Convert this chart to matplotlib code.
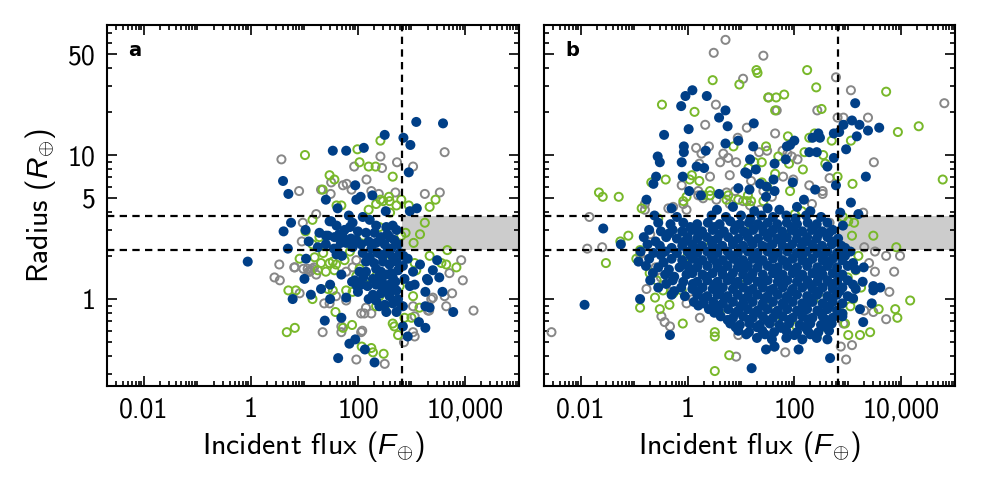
import numpy as np
import matplotlib
matplotlib.use("Agg")
import matplotlib.pyplot as plt
from matplotlib.ticker import FixedLocator, FixedFormatter, NullFormatter

plt.rcParams['font.family'] = ['cmss10', 'DejaVu Sans']
plt.rcParams['mathtext.fontset'] = 'custom'
plt.rcParams['mathtext.rm'] = 'cmss10'
plt.rcParams['mathtext.it'] = 'Liberation Sans:italic'
plt.rcParams['axes.unicode_minus'] = False

# ---------------- data (log10 of incident flux, log10 of radius) ----------------
# Panel a
a_gray = [(0.57,0.97),(0.90,0.75),(2.42,0.99),(2.73,0.95),(3.03,0.92),(1.93,0.92),(2.45,0.91),(2.16,0.83),
          (3.62,1.02),(1.50,0.81),(1.72,0.79),(1.79,0.80),(1.88,0.76),(1.49,0.73),(1.31,0.76),(2.25,0.75),
          (2.70,0.74),(3.25,0.73),(3.53,0.74),(2.39,0.73),(1.22,0.59),(0.97,0.53),(0.95,0.40),(0.82,0.22),
          (0.98,0.21),(1.06,0.21),(1.12,0.20),(1.15,0.21),(1.08,0.19),(1.22,0.17),(0.53,0.24),(0.44,0.15),
          (0.54,0.13),(0.91,0.04),(1.59,0.02),(1.78,-0.01),(1.47,-0.03),(1.37,-0.03),(1.97,0.27),(1.90,0.22),
          (1.78,0.19),(2.12,-0.10),(2.06,-0.10),(2.25,-0.10),(2.15,-0.06),(3.93,0.27),(3.71,0.18),(3.96,0.13),
          (3.76,0.04),(3.65,-0.05),(4.16,-0.08),(3.37,0.00),(3.40,0.01),(3.03,-0.05),(3.06,-0.12),(1.34,-0.23),
          (1.69,-0.23),(1.69,-0.19),(2.06,-0.23),(1.97,-0.42),(2.50,-0.45),(2.86,-0.30),(3.06,-0.26),(3.03,-0.23),
          (3.62,0.02),(3.31,-0.08),(3.33,-0.08),(2.08,-0.22),(0.81,0.22),(1.18,0.22),(1.10,0.19)]
a_green = [(1.01,1.00),(1.99,1.04),(2.42,1.10),(2.03,0.95),(2.20,0.92),(2.33,0.92),(2.65,0.85),(1.47,0.86),
           (1.56,0.83),(1.34,0.76),(2.42,0.69),(2.58,0.71),(2.81,0.69),(3.45,0.69),(1.60,0.65),(1.69,0.65),
           (2.34,0.66),(2.47,0.68),(2.59,0.68),(2.72,0.65),(2.95,0.65),(3.34,0.64),(3.25,0.53),(3.16,0.45),
           (3.04,0.39),(2.89,0.46),(2.81,0.44),(3.67,0.34),(1.15,0.55),(1.02,0.47),(1.28,0.43),(1.35,0.32),
           (1.15,0.38),(0.91,0.28),(1.19,0.29),(1.31,0.25),(1.47,0.25),(1.53,0.26),(1.75,0.27),(1.25,0.20),
           (1.40,0.19),(1.56,0.20),(1.59,0.24),(1.97,0.16),(2.15,0.15),(2.34,0.16),(2.03,0.21),(0.70,0.06),
           (0.84,0.06),(1.53,0.06),(1.78,0.06),(1.90,0.05),(1.15,0.00),(1.44,0.07),(2.40,0.02),(2.34,-0.05),
           (2.50,-0.05),(2.87,-0.13),(3.00,-0.13),(2.65,-0.17),(2.68,-0.19),(2.75,-0.25),(1.58,-0.09),(1.72,-0.20),
           (1.89,-0.18),(0.67,-0.23),(0.82,-0.20),(2.07,-0.33),(2.25,-0.34),(2.28,-0.37),(2.48,-0.38),(3.03,0.02),
           (3.15,-0.06),(3.65,0.24),(3.84,0.22),(3.34,0.30),(3.06,0.25),(3.09,0.20),(2.78,0.09),(3.56,0.25),
           (2.40,0.50),(2.10,0.44),(1.85,0.33),(2.55,0.26),(2.60,0.60),(2.20,0.62)]
a_blue = [(2.50,1.14),(2.85,1.12),(3.09,1.23),(3.59,1.22),(2.98,1.07),(1.53,1.03),(1.78,1.03),(2.11,1.05),
          (2.95,0.88),(0.60,0.82),(0.70,0.73),(1.95,0.79),(2.05,0.71),(2.27,0.72),(1.40,0.69),(1.97,0.69),
          (1.62,0.63),(1.83,0.58),(2.52,0.61),(2.97,0.61),(3.10,0.63),(0.75,0.53),(0.61,0.47),(1.02,0.48),
          (1.08,0.40),(0.69,0.35),(-0.06,0.26),(1.03,0.28),(1.00,0.14),(0.78,0.00),(1.12,0.03),(1.31,0.07),
          (1.48,0.10),(1.48,0.00),(1.69,0.17),(1.78,0.01),(1.38,-0.15),(1.69,-0.13),(1.84,-0.31),(1.95,-0.28),
          (2.13,-0.35),(1.63,-0.41),(2.31,-0.44),(2.84,-0.19),(2.93,-0.26),(3.14,-0.16),(3.26,-0.20),(3.78,-0.09),
          (3.58,0.05),(3.52,0.15),(3.48,0.27),(3.40,0.20),(3.31,0.13),(3.16,0.24),(3.26,-0.05),(3.34,-0.06),
          (2.93,0.28),(3.03,0.19),(3.06,0.10),(2.97,0.09),(2.87,0.14),(2.84,-0.05),(3.26,0.05),(3.29,0.14),
          (1.50,0.54),(1.60,0.51),(1.75,0.48),(1.90,0.53),(2.09,0.57),(2.22,0.55),(2.34,0.51),(2.53,0.50),
          (2.65,0.51),(2.72,0.48),(1.28,0.46),(1.44,0.44),(1.56,0.43),(1.72,0.43),(1.87,0.42),(1.97,0.41),
          (2.15,0.46),(2.31,0.46),(2.43,0.43),(2.59,0.43),(2.68,0.41),(1.25,0.36),(1.40,0.38),(1.60,0.35),
          (1.78,0.39),(1.90,0.36),(2.06,0.38),(2.20,0.40),(2.34,0.39),(2.50,0.38),(2.62,0.35),(2.75,0.38),
          (1.60,0.31),(2.09,0.32),(2.22,0.29),(2.37,0.32),(2.53,0.32),(2.65,0.29),(2.15,0.26),(2.47,0.26),
          (2.59,0.24),(2.72,0.26),(2.75,0.20),(2.34,0.21),(2.43,0.19),(2.53,0.17),(2.28,0.14),(2.40,0.16),
          (2.62,0.18),(2.03,0.19),(2.15,0.19),(1.94,0.13),(2.06,0.10),(2.18,0.09),(2.34,0.10),(2.47,0.07),
          (2.59,0.10),(2.65,0.15),(2.72,0.06),(2.28,0.03),(2.43,0.04),(2.59,0.02),(2.34,-0.01),(2.50,-0.04),
          (2.65,-0.03),(2.53,-0.09),(2.72,-0.09),(2.81,-0.05),(1.98,0.09),(1.89,0.12),(1.47,0.54),(1.40,0.44),
          (2.00,0.47),(1.68,0.39),(2.78,0.32),(2.84,0.23),(2.70,0.12),(2.45,0.12),
          (1.65,0.45),(1.85,0.50),(2.25,0.35),(2.45,0.30),(2.55,0.45),(1.70,0.30),(2.10,0.15),(2.30,0.25),
          (2.60,0.05),(2.40,-0.05),(2.00,0.05),(1.55,0.35),(2.75,0.00),(2.85,0.30),(2.20,0.00)]

# Panel b
b_gray = [(0.71,1.80),(0.49,1.71),(1.42,1.69),(1.04,1.53),(2.78,1.54),(3.06,1.45),(0.53,1.35),(1.52,1.40),
          (1.67,1.31),(2.43,1.31),(4.81,1.36),(0.33,1.21),(1.11,1.19),(2.81,1.26),(2.92,1.26),(3.38,1.26),
          (1.64,1.15),(0.94,1.12),(0.16,1.05),(0.26,1.01),(0.40,1.06),(0.67,1.01),(0.61,0.95),(0.76,0.98),
          (0.91,0.95),(0.42,0.85),(0.79,0.86),(-0.11,0.79),(1.34,1.02),(1.49,1.03),(1.78,1.03),(1.87,1.01),
          (1.95,0.99),(2.06,0.97),(1.79,0.85),(1.98,0.83),(2.28,0.79),(2.53,0.75),(3.49,0.95),(2.66,0.84),
          (0.22,0.94),(0.20,0.75),(1.19,0.82),(1.42,0.75),(0.73,0.74),(0.89,0.75),(-1.84,0.57),(-1.88,0.35),
          (-1.60,0.36),(-2.55,-0.23),(-0.77,0.07),(-0.49,-0.12),(-0.43,-0.16),(-0.33,-0.19),(0.23,-0.13),
          (-0.02,-0.03),(0.42,-0.07),(3.29,0.60),(3.72,0.30),(3.98,0.30),(3.51,0.19),(3.87,0.19),(3.78,0.05),
          (3.72,-0.14),(3.48,-0.09),(3.31,-0.08),(2.92,-0.17),(3.08,-0.32),(2.97,-0.42),(2.87,-0.33),
          (1.83,-0.37),(1.62,-0.33),(0.91,-0.40),(0.95,-0.25),(-0.89,0.31),(-0.83,0.27),(-0.80,0.62),
          (-0.80,0.66),(-0.36,0.63),(-0.27,0.64),(-0.08,0.66),(-0.02,0.62),(0.20,0.72),(0.29,0.70),(0.54,0.69),
          (0.79,0.66),(1.04,0.68),(1.17,0.65),(1.36,0.62),(1.58,0.71),(2.33,0.66),(2.53,0.73),(2.66,0.53),
          (3.31,0.36),(3.51,0.33),(-0.50,0.15),(-0.30,0.05),(0.10,0.00),(-0.60,0.22),(-0.70,0.45),(3.40,0.25)]
b_green = [(1.29,1.59),(1.31,1.57),(0.47,1.52),(0.97,1.49),(2.24,1.59),(2.41,1.47),(3.72,1.44),(-0.48,1.35),
           (0.13,1.30),(1.51,1.40),(1.66,1.40),(1.81,1.42),(1.64,1.31),(2.51,1.32),(4.33,1.20),(3.94,1.16),
           (1.88,1.13),(1.47,1.06),(2.28,1.12),(2.38,1.15),(2.70,1.10),(3.06,1.10),(0.86,1.06),(2.19,1.02),
           (2.54,1.00),(2.58,0.94),(1.70,0.99),(1.90,0.94),(1.14,0.91),(1.25,0.95),(1.39,0.95),(1.64,0.87),
           (1.39,0.81),(0.08,0.86),(0.22,0.82),(0.04,0.83),(-0.41,0.83),(-0.68,0.81),(2.16,0.90),(2.81,0.85),
           (3.09,0.80),(4.78,0.83),(-1.66,0.74),(-1.59,0.71),(-1.29,0.71),(0.42,0.75),(0.76,0.72),(1.49,0.78),
           (1.92,0.75),(1.13,0.72),(-1.26,0.40),(-1.11,0.44),(-1.53,0.25),(-0.96,0.28),(-0.89,0.34),(-0.86,0.63),
           (-0.55,0.56),(-0.89,-0.06),(-0.52,-0.07),(-0.34,-0.04),(-0.61,0.01),(-0.09,-0.17),(0.51,-0.23),
           (0.51,-0.26),(0.78,-0.39),(0.51,-0.50),(3.48,0.44),(3.91,0.36),(4.17,-0.01),(3.89,-0.07),(3.93,-0.13),
           (3.58,-0.07),(3.42,-0.23),(3.23,-0.25),(3.01,-0.25),(2.95,-0.17),(2.91,0.57),(3.01,0.54),(3.12,0.53),
           (3.08,0.44),(1.64,-0.15),(2.04,-0.19),(2.42,-0.26),(2.61,-0.20),(-0.08,0.68),(-0.02,0.71),(0.29,0.72),
           (0.42,0.72),(0.73,0.69),(0.95,0.69),(1.11,0.68),(1.19,0.68),(2.01,0.59),(2.14,0.61),(1.42,0.68),
           (0.30,0.40),(1.00,0.10),(1.50,-0.05),(2.20,0.30),(0.60,-0.10),(2.50,0.00),(1.80,0.45),(0.00,0.30),
           (-0.20,0.45),(3.00,0.15),(3.10,0.00),(3.20,0.30),(2.90,-0.10),(1.20,0.50),(-0.71,0.18),(-0.58,0.13),
           (-0.46,0.06),(-0.27,0.04),(-0.11,0.06),(3.15,0.20),(3.25,0.08),(3.05,-0.05),(2.95,0.35)]
b_blue = [(0.09,1.45),(-0.04,1.41),(-0.12,1.34),(0.36,1.41),(0.71,1.31),(0.59,1.26),(0.75,1.20),(0.02,1.18),
          (-0.44,1.14),(1.24,1.22),(3.14,1.36),(3.08,1.24),(2.92,1.21),(3.22,1.21),(3.38,1.17),(3.59,1.19),
          (3.17,1.13),(2.45,1.15),(2.34,1.12),(2.48,1.12),(2.74,1.15),(2.84,1.16),(2.00,1.10),(1.86,1.06),
          (1.92,1.07),(0.71,1.08),(0.95,1.10),(0.34,1.03),(-0.07,1.06),(-0.07,1.02),(-0.56,0.99),(-0.52,0.95),
          (-0.11,0.95),(1.23,1.06),(1.17,0.97),(1.84,0.97),(1.63,0.94),(2.28,1.02),(2.42,1.02),(2.97,1.04),
          (2.74,0.98),(2.62,0.92),(3.34,0.85),(0.17,0.92),(0.31,0.91),(-0.09,0.85),(-0.59,0.85),(-0.64,0.80),
          (1.08,0.88),(1.12,0.87),(1.28,0.90),(1.36,0.80),(1.48,0.78),(1.61,0.83),(1.16,0.76),(0.95,0.77),
          (0.59,0.73),(0.25,0.72),(0.03,0.75),(-0.77,0.69),(1.63,0.75),(1.97,0.81),(2.39,0.76),(2.78,0.79),
          (2.18,0.69),(1.47,0.71),(-1.93,-0.04),(-1.58,0.49),(-1.25,0.38),(3.06,0.67),(3.20,0.59),(2.86,0.60),
          (2.91,0.51),(-0.33,-0.25),(1.20,-0.48),(1.47,-0.35),(1.63,-0.33),(2.08,-0.35),(2.67,-0.41),
          (-0.89,0.00),(-0.92,0.26),(3.48,0.06),(3.61,0.08),(3.45,-0.03),(3.48,0.09),(3.29,-0.16),(3.23,-0.07)]
b_blue_core = [
    (-0.30,0.63),(0.55,0.62),(0.85,0.64),(1.25,0.61),(1.50,0.63),(1.72,0.62),(2.30,0.61),(2.05,0.64),
    (-0.62,0.58),(-0.20,0.57),(0.45,0.58),(0.72,0.57),(1.00,0.58),(1.18,0.56),(1.38,0.58),(1.60,0.57),
    (1.85,0.58),(2.02,0.56),(2.50,0.57),(2.22,0.58),
    (-0.55,0.53),(-0.32,0.52),(-0.08,0.53),(0.18,0.52),(0.38,0.53),(0.60,0.52),(0.80,0.54),(0.98,0.52),
    (1.15,0.53),(1.32,0.52),(1.50,0.53),(1.68,0.52),(1.86,0.53),(2.05,0.52),(2.25,0.53),(2.42,0.52),(2.62,0.53),
    (-0.72,0.48),(-0.50,0.47),(-0.28,0.48),(-0.10,0.47),(0.08,0.48),(0.27,0.47),(0.47,0.48),(0.68,0.47),
    (0.88,0.48),(1.05,0.47),(1.23,0.48),(1.42,0.47),(1.60,0.48),(1.77,0.47),(1.95,0.48),(2.15,0.47),
    (2.33,0.48),(2.52,0.47),(2.72,0.48),
    (-0.82,0.43),(-0.40,0.43),(-0.20,0.42),(0.00,0.43),(0.18,0.42),(0.36,0.43),(0.56,0.42),(0.76,0.43),
    (0.95,0.42),(1.13,0.43),(1.32,0.42),(1.50,0.43),(1.68,0.42),(1.86,0.43),(2.05,0.42),(2.24,0.43),
    (2.42,0.42),(2.62,0.43),(2.82,0.42),
    (-0.75,0.38),(-0.52,0.37),(-0.10,0.37),(0.09,0.38),(0.27,0.37),(0.46,0.38),(0.65,0.37),(0.85,0.38),
    (1.04,0.37),(1.22,0.38),(1.40,0.37),(1.59,0.38),(1.78,0.37),(1.96,0.38),(2.14,0.37),(2.33,0.38),
    (2.52,0.37),(2.70,0.38),(2.88,0.37),
    (-0.88,0.33),(-0.64,0.32),(-0.42,0.33),(-0.20,0.32),(0.00,0.33),(0.18,0.32),(0.37,0.33),(0.56,0.32),
    (0.75,0.33),(0.94,0.32),(1.13,0.33),(1.31,0.32),(1.50,0.33),(1.69,0.32),(1.87,0.33),(2.05,0.32),
    (2.24,0.33),(2.43,0.32),(2.62,0.33),(2.80,0.32),(3.05,0.33),
    (-0.72,0.28),(-0.30,0.28),(-0.10,0.27),(0.09,0.28),(0.28,0.27),(0.47,0.28),(0.66,0.27),(0.85,0.28),
    (1.04,0.27),(1.22,0.28),(1.41,0.27),(1.60,0.28),(1.78,0.27),(1.97,0.28),(2.15,0.27),(2.34,0.28),
    (2.53,0.27),(2.72,0.28),(2.90,0.27),
    (-0.78,0.23),(-0.55,0.22),(-0.15,0.22),(0.00,0.23),(0.18,0.22),(0.37,0.23),(0.56,0.22),(0.75,0.23),
    (0.94,0.22),(1.13,0.23),(1.31,0.22),(1.50,0.23),(1.69,0.22),(1.87,0.23),(2.05,0.22),(2.24,0.23),
    (2.43,0.22),(2.62,0.23),(2.80,0.22),(3.00,0.23),(3.30,0.22),
    (-0.65,0.18),(-0.42,0.17),(-0.02,0.17),(0.09,0.18),(0.28,0.17),(0.47,0.18),(0.66,0.17),(0.85,0.18),
    (1.04,0.17),(1.22,0.18),(1.41,0.17),(1.60,0.18),(1.78,0.17),(1.97,0.18),(2.15,0.17),(2.34,0.18),
    (2.53,0.17),(2.72,0.18),(2.90,0.17),
    (-0.70,0.13),(-0.28,0.13),(-0.08,0.12),(0.18,0.12),(0.37,0.13),(0.56,0.12),(0.75,0.13),(0.94,0.12),
    (1.13,0.13),(1.31,0.12),(1.50,0.13),(1.69,0.12),(1.87,0.13),(2.05,0.12),(2.24,0.13),(2.43,0.12),
    (2.62,0.13),(2.80,0.12),(3.00,0.13),(3.28,0.12),
    (-0.55,0.08),(-0.12,0.08),(0.09,0.07),(0.28,0.08),(0.47,0.07),(0.66,0.08),(0.85,0.07),(1.04,0.08),
    (1.22,0.07),(1.41,0.08),(1.60,0.07),(1.78,0.08),(1.97,0.07),(2.15,0.08),(2.34,0.07),(2.53,0.08),
    (2.72,0.07),(2.90,0.08),(3.15,0.07),
    (-0.30,0.03),(-0.05,0.02),(0.18,0.03),(0.37,0.02),(0.56,0.03),(0.75,0.02),(0.94,0.03),(1.13,0.02),
    (1.31,0.03),(1.50,0.02),(1.69,0.03),(1.87,0.02),(2.05,0.03),(2.24,0.02),(2.43,0.03),(2.62,0.02),
    (2.80,0.03),(3.00,0.02),
    (0.12,-0.02),(0.30,-0.03),(0.48,-0.02),(0.66,-0.03),(0.85,-0.02),(1.04,-0.03),(1.22,-0.02),(1.41,-0.03),
    (1.60,-0.02),(1.78,-0.03),(1.97,-0.02),(2.15,-0.03),(2.34,-0.02),(2.53,-0.03),(2.72,-0.02),(2.90,-0.03),
    (0.40,-0.07),(0.58,-0.08),(0.76,-0.07),(0.95,-0.08),(1.13,-0.07),(1.31,-0.08),(1.50,-0.07),(1.69,-0.08),
    (1.87,-0.07),(2.05,-0.08),(2.24,-0.07),(2.43,-0.08),(2.62,-0.07),(2.80,-0.08),
    (0.62,-0.12),(0.85,-0.13),(1.04,-0.12),(1.22,-0.13),(1.41,-0.12),(1.60,-0.13),(1.78,-0.12),(1.97,-0.13),
    (2.15,-0.12),(2.34,-0.13),(2.53,-0.12),(2.72,-0.13),(2.90,-0.12),
    (0.80,-0.17),(0.98,-0.18),(1.16,-0.17),(1.35,-0.18),(1.54,-0.17),(1.72,-0.18),(1.90,-0.17),(2.10,-0.18),
    (2.30,-0.17),(2.50,-0.18),(2.70,-0.17),
    (0.95,-0.22),(1.15,-0.23),(1.40,-0.22),(1.62,-0.23),(1.85,-0.22),(2.05,-0.23),(2.25,-0.22),(2.45,-0.23),
    (2.65,-0.22),
    (1.30,-0.27),(1.58,-0.28),(1.85,-0.27),(2.15,-0.28),(2.42,-0.27),(2.62,-0.28)]
b_blue_core2 = [
    (0.05,0.50),(0.50,0.50),(0.90,0.51),(1.40,0.50),(1.95,0.50),(2.35,0.49),
    (-0.35,0.455),(0.20,0.455),(0.60,0.45),(1.10,0.455),(1.55,0.46),(2.05,0.455),(2.45,0.45),(2.65,0.46),
    (-0.60,0.40),(-0.05,0.40),(0.45,0.405),(0.85,0.40),(1.20,0.40),(1.75,0.405),(2.20,0.40),(2.75,0.40),
    (-0.30,0.355),(0.15,0.355),(0.55,0.35),(1.00,0.355),(1.50,0.36),(1.90,0.355),(2.40,0.35),(2.95,0.355),
    (-0.50,0.305),(0.05,0.305),(0.45,0.30),(0.80,0.305),(1.25,0.31),(1.60,0.305),(2.15,0.30),(2.55,0.305),(2.95,0.30),
    (-0.45,0.255),(0.20,0.255),(0.55,0.25),(0.95,0.255),(1.35,0.26),(1.85,0.255),(2.25,0.25),(2.65,0.255),(3.10,0.25),
    (-0.35,0.205),(0.10,0.205),(0.65,0.20),(1.05,0.205),(1.60,0.21),(2.00,0.205),(2.50,0.20),(3.15,0.205),
    (-0.25,0.155),(0.35,0.155),(0.80,0.15),(1.20,0.155),(1.70,0.16),(2.10,0.155),(2.45,0.15),(2.85,0.155),
    (-0.40,0.105),(0.10,0.105),(0.50,0.10),(0.90,0.105),(1.40,0.11),(1.80,0.105),(2.30,0.10),(2.70,0.105),(3.10,0.10),
    (-0.25,0.055),(0.20,0.055),(0.60,0.05),(1.15,0.055),(1.55,0.06),(1.95,0.055),(2.45,0.05),(2.85,0.055),
    (0.30,0.005),(0.70,0.005),(1.05,0.00),(1.45,0.005),(1.85,0.01),(2.30,0.005),(2.70,0.00),(3.10,0.005),
    (0.20,-0.045),(0.55,-0.045),(1.00,-0.05),(1.40,-0.045),(1.80,-0.04),(2.20,-0.045),(2.65,-0.05),
    (0.50,-0.095),(0.90,-0.095),(1.25,-0.10),(1.65,-0.095),(2.10,-0.09),(2.50,-0.095),(2.90,-0.10),
    (0.75,-0.145),(1.15,-0.145),(1.50,-0.15),(1.90,-0.145),(2.25,-0.14),(2.60,-0.145),
    (0.90,-0.195),(1.30,-0.195),(1.75,-0.20),(2.20,-0.195),(2.55,-0.19),
    (1.10,-0.245),(1.45,-0.245),(2.00,-0.25),(2.30,-0.245)]

# reference lines
flux_cut = 660.0
radius_band = (2.2, 3.78)

x_ticks = [0.01, 1, 100, 10000]
x_ticklabels = ['0.01', '1', '100', '10,000']
y_ticks = [1, 5, 10, 50]
y_ticklabels = ['1', '5', '10', '50']

# ---------------- styling ----------------
C_BLUE = '#003f87'
C_GREEN = '#78b82a'
C_GRAY = '#878787'
W, H = 981, 491
fig = plt.figure(figsize=(W / 100, H / 100), dpi=100)

axes_px = [(107, 519), (544, 955)]
top_px, bot_px = 25, 386
axs = []
for (l, r) in axes_px:
    axs.append(fig.add_axes([l / W, (H - bot_px) / H, (r - l) / W, (bot_px - top_px) / H]))


def pts(lst):
    arr = np.array(lst, dtype=float)
    return 10 ** arr[:, 0], 10 ** arr[:, 1]


minor_x = [k * 10.0 ** e for e in range(-3, 6) for k in range(1, 10)
           if not (k == 1 and e in (-2, 0, 2, 4))]
minor_y = [k * 10.0 ** e for e in range(-1, 3) for k in range(1, 10)
           if not ((k == 1 and e in (0, 1)) or (k == 5 and e in (0, 1)))]

panels = [
    ('a', a_gray, a_green, [a_blue]),
    ('b', b_gray, b_green, [b_blue, b_blue_core, b_blue_core2]),
]

for ax, (lab, gr, gn, bls) in zip(axs, panels):
    ax.set_xscale('log')
    ax.set_yscale('log')
    ax.set_xlim(10 ** -2.69, 10 ** 5.01)
    ax.set_ylim(0.249, 80)
    # band and reference lines
    ax.fill_between([flux_cut, 10 ** 5.2], radius_band[0], radius_band[1],
                    color='#cccccc', lw=0, zorder=0)
    dash = (0, (3.3, 2.4))
    for yv in radius_band:
        ax.axhline(yv, color='black', lw=1.6, ls=dash, zorder=4)
    ax.axvline(flux_cut, color='black', lw=1.6, ls=dash, zorder=4)
    # points
    x, y = pts(gr)
    ax.scatter(x, y, s=34, facecolors='none', edgecolors=C_GRAY, linewidths=1.4, zorder=2)
    x, y = pts(gn)
    ax.scatter(x, y, s=34, facecolors='none', edgecolors=C_GREEN, linewidths=1.4, zorder=2.1)
    for bl in bls:
        x, y = pts(bl)
        ax.scatter(x, y, s=52, c=C_BLUE, edgecolors='none', zorder=2.2)
    # ticks
    ax.xaxis.set_major_locator(FixedLocator(x_ticks))
    ax.xaxis.set_minor_locator(FixedLocator(minor_x))
    ax.yaxis.set_major_locator(FixedLocator(y_ticks))
    ax.yaxis.set_minor_locator(FixedLocator(minor_y))
    ax.xaxis.set_major_formatter(FixedFormatter(x_ticklabels))
    ax.xaxis.set_minor_formatter(NullFormatter())
    ax.yaxis.set_minor_formatter(NullFormatter())
    if lab == 'a':
        ax.yaxis.set_major_formatter(FixedFormatter(y_ticklabels))
        ax.set_ylabel('Radius ($R_{\\oplus}$)', fontsize=21.5, labelpad=7)
    else:
        ax.yaxis.set_major_formatter(NullFormatter())
    ax.tick_params(which='both', direction='in', top=True, right=True, width=1.2)
    ax.tick_params(which='major', length=7, labelsize=20, pad=8)
    ax.tick_params(which='minor', length=3.5)
    for s in ax.spines.values():
        s.set_linewidth(1.5)
    ax.set_xlabel('Incident flux ($F_{\\oplus}$)', fontsize=21.5, labelpad=5)
    ax.text(0.052, 0.955, lab, transform=ax.transAxes, fontsize=14, fontweight='bold',
            family='DejaVu Sans', va='top', ha='left')

fig.savefig('out.png', dpi=100)
